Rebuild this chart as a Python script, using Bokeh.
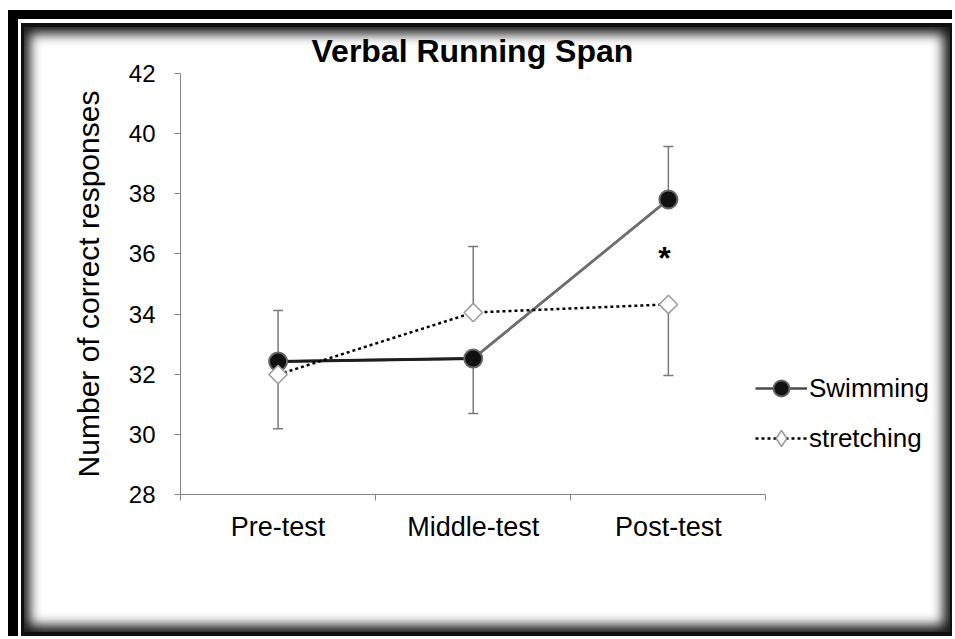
from bokeh.plotting import figure
from bokeh.models import (ColumnDataSource, Range1d, LinearAxis, FixedTicker,
                          Whisker, TeeHead, Legend, LegendItem)
from bokeh.core.properties import value
from bokeh.embed import file_html
from bokeh.resources import INLINE

# ---------------- data ----------------
categories = ["Pre-test", "Middle-test", "Post-test"]
swimming = [32.42, 32.52, 37.81]
stretching = [31.99, 34.05, 34.32]
swimming_err_up = [1.70, 0.0, 1.76]
swimming_err_down = [0.0, 1.83, 0.0]
stretching_err_up = [0.0, 2.20, 0.0]
stretching_err_down = [1.80, 0.0, 2.36]
y_ticks = [28, 30, 32, 34, 36, 38, 40, 42]
sig_category = ["Post-test"]
sig_y = [35.85]
sig_text = ["*"]

FONT = "Liberation Sans"
GRAY = "#868686"

# category slots on a numeric axis: each category occupies one unit
xpos = {c: i + 0.5 for i, c in enumerate(categories)}
cx = [xpos[c] for c in categories]
n_cat = len(categories)

p = figure(width=955, height=639, x_range=Range1d(0, 3.92), y_range=Range1d(28, 42),
           x_axis_location=None, y_axis_location=None,
           output_backend="svg", toolbar_location=None,
           min_border_left=180, min_border_right=10, min_border_top=73, min_border_bottom=145)
p.outline_line_color = None
p.background_fill_color = None
p.border_fill_color = None
for g in p.grid:
    g.grid_line_color = None

# picture-frame look (black border, white gap, thin black line, inner shadow)
p.styles = {
    "box-shadow": ", ".join([
        "inset 8px 10px 0 0 white",
        "inset -3px -3px 0 0 white",
        "inset 18px 19px 0 0 black",
        "inset 21px 23px 0 0 white",
        "inset 24px 27px 0 0 #111111",
        "inset -5px -7px 0 0 #111111",
        "inset 30px 34px 12px 0 #1a1a1a",
        "inset -12px -14px 12px 0 #1a1a1a",
    ]),
    "background-color": "white",
}

# ---------------- title ----------------
p.title.text = "Verbal Running Span"
p.title.align = "left"
p.title.offset = 131
p.title.text_font = FONT
p.title.text_font_size = "32px"
p.title.text_font_style = "bold"
p.title.text_color = "black"

# ---------------- axes ----------------
yaxis = LinearAxis(ticker=FixedTicker(ticks=y_ticks),
                   axis_label="Number of correct responses",
                   axis_label_text_font=FONT, axis_label_text_font_size="30px",
                   axis_label_text_font_style="normal", axis_label_text_color="black",
                   axis_label_standoff=21,
                   major_label_text_font=FONT, major_label_text_font_size="24px",
                   major_label_text_color="black", major_label_standoff=19,
                   axis_line_color=GRAY, major_tick_line_color=GRAY,
                   major_tick_out=6, major_tick_in=0, minor_tick_line_color=None)
p.add_layout(yaxis, "left")

xaxis = LinearAxis(ticker=FixedTicker(ticks=cx, minor_ticks=list(range(n_cat + 1))),
                   bounds=(0, n_cat),
                   major_label_overrides={xpos[c]: c for c in categories},
                   major_label_text_font=FONT, major_label_text_font_size="27px",
                   major_label_text_color="black", major_label_standoff=11,
                   axis_line_color=GRAY,
                   major_tick_line_color=None, major_tick_out=6, major_tick_in=0,
                   minor_tick_line_color=GRAY, minor_tick_out=6, minor_tick_in=0)
p.add_layout(xaxis, "below")

# ---------------- error bars ----------------
swim_src = ColumnDataSource(dict(
    x=cx,
    upper=[v + e for v, e in zip(swimming, swimming_err_up)],
    lower=[v - e for v, e in zip(swimming, swimming_err_down)]))
str_src = ColumnDataSource(dict(
    x=cx,
    upper=[v + e for v, e in zip(stretching, stretching_err_up)],
    lower=[v - e for v, e in zip(stretching, stretching_err_down)]))
for src in (swim_src, str_src):
    w = Whisker(base="x", upper="upper", lower="lower", source=src, dimension="height",
                line_color="#7a7a7a", line_width=1.5, level="underlay",
                upper_head=TeeHead(size=10, line_color="#7a7a7a", line_width=1.5),
                lower_head=TeeHead(size=10, line_color="#7a7a7a", line_width=1.5))
    p.add_layout(w)

# ---------------- series ----------------
swim_line = p.line(cx, swimming, line_color="#4a4a4a", line_width=2.5)
p.segment(x0=cx[:-1], y0=swimming[:-1], x1=cx[1:], y1=swimming[1:],
          line_color=["#1e1e1e", "#707070"], line_width=[3, 2.5])
str_line = p.line(cx, stretching, line_color="black", line_width=2.5, line_dash="3 3")
swim_pts = p.scatter(cx, swimming, marker="circle", size=18,
                     fill_color="#111111", line_color="#666666", line_width=2)
# diamond glyph used for the legend key (hidden beneath the rotated squares in the plot)
str_key = p.scatter(cx, stretching, marker="diamond", size=16,
                    fill_color="white", line_color="#9a9a9a", line_width=1.5)
str_pts = p.scatter(cx, stretching, marker="square", angle=0.785398, size=13,
                    fill_color="white", line_color="#9a9a9a", line_width=1.5)

p.text(x=[xpos[c] for c in sig_category], y=sig_y, text=sig_text, text_font=value(FONT),
       text_font_style="bold", text_font_size="32px", text_color="black",
       text_align="center", text_baseline="middle", x_offset=-4)

# ---------------- legend ----------------
legend = Legend(items=[LegendItem(label="Swimming", renderers=[swim_line, swim_pts]),
                       LegendItem(label="stretching", renderers=[str_line, str_key])],
                location=(575, 36), orientation="vertical",
                label_text_font=FONT, label_text_font_size="26px", label_text_color="black",
                glyph_width=52, glyph_height=40, label_height=40, spacing=10,
                label_standoff=2, padding=0, margin=0,
                border_line_color=None, background_fill_alpha=0)
p.add_layout(legend)

open("out.html", "w").write(file_html(p, INLINE))
